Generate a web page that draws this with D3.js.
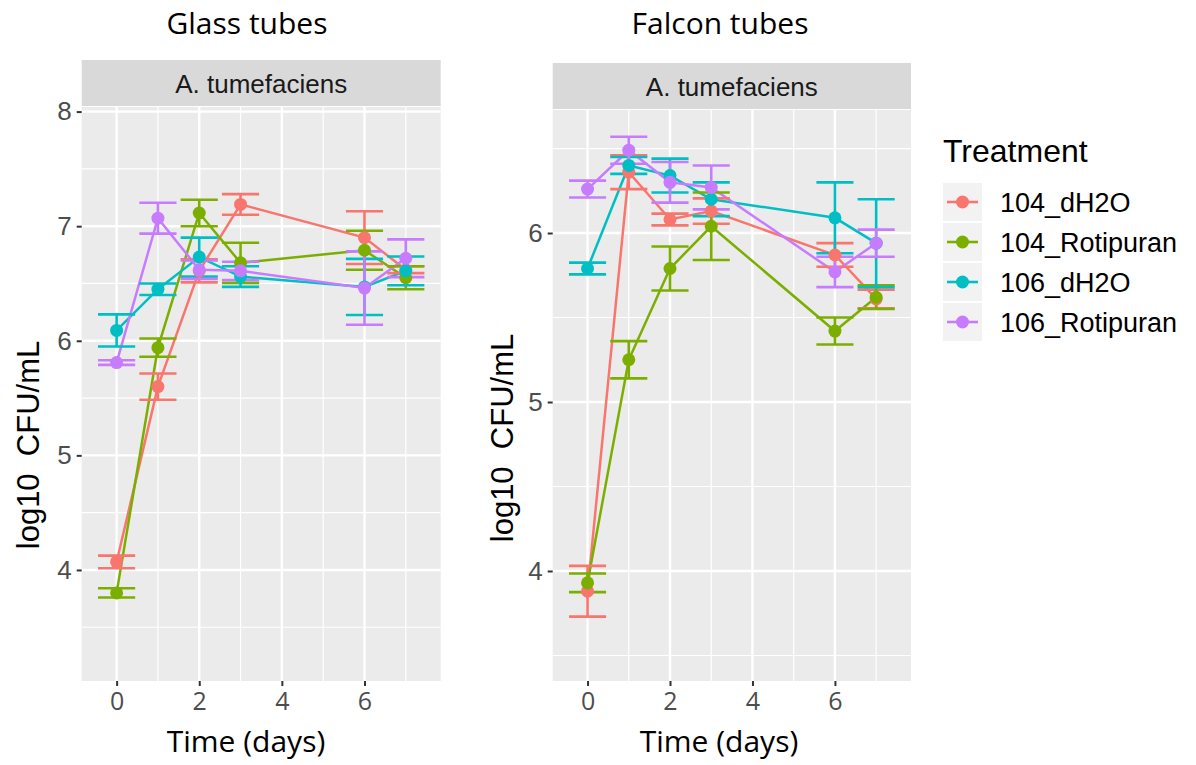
<!DOCTYPE html>
<html>
<head>
<meta charset="utf-8">
<script src="https://cdn.jsdelivr.net/npm/d3@7"></script>
<style>
  body { margin: 0; background: #fff; }
</style>
</head>
<body>
<svg id="chart" width="1196" height="765"></svg>
<script>
// sampling days and treatments
var days = [0, 1, 2, 3, 6, 7];
var treatments = ["104_dH2O", "104_Rotipuran", "106_dH2O", "106_Rotipuran"];
var colors = ["#F8766D", "#7CAE00", "#00BFC4", "#C77CFF"];

// glass tubes: mean log10 CFU/mL and error, one row per treatment
var glassMean = [
    [4.07, 5.60, 6.61, 7.19, 6.90, 6.62],
    [3.80, 5.94, 7.115, 6.68, 6.79, 6.55],
    [6.09, 6.45, 6.73, 6.56, 6.47, 6.61],
    [5.81, 7.07, 6.62, 6.61, 6.46, 6.72]
];
var glassErr = [
    [0.055, 0.115, 0.10, 0.09, 0.23, 0.03],
    [0.04, 0.08, 0.115, 0.175, 0.17, 0.10],
    [0.14, 0.05, 0.17, 0.09, 0.245, 0.125],
    [0.02, 0.135, 0.08, 0.08, 0.32, 0.165]
];

// falcon tubes
var falconMean = [
    [3.88, 6.36, 6.08, 6.13, 5.87, 5.61],
    [3.93, 5.25, 5.79, 6.04, 5.42, 5.62],
    [5.79, 6.40, 6.34, 6.20, 6.09, 5.94],
    [6.26, 6.49, 6.30, 6.27, 5.77, 5.94]
];
var falconErr = [
    [0.15, 0.10, 0.035, 0.075, 0.07, 0.055],
    [0.055, 0.11, 0.13, 0.20, 0.08, 0.07],
    [0.035, 0.05, 0.10, 0.10, 0.21, 0.26],
    [0.05, 0.08, 0.12, 0.13, 0.09, 0.08]
];

var xTicks = [0, 2, 4, 6];
var xMinor = [1, 3, 5, 7];
var glassYTicks = [4, 5, 6, 7, 8];
var glassYMinor = [3.5, 4.5, 5.5, 6.5, 7.5];
var falconYTicks = [4, 5, 6];
var falconYMinor = [3.5, 4.5, 5.5, 6.5];

var svg = d3.select("#chart");
var sansFont = "'Liberation Sans', Arial, sans-serif";
var titleFont = "'Open Sans', sans-serif";

function drawPanel(p) {
    var x = d3.scaleLinear().domain([-0.845, 7.845]).range([p.left, p.right]);
    var y = d3.scaleLinear().domain(p.yDomain).range([p.bottom, p.top]);
    var g = svg.append("g");

    // title
    g.append("text")
        .attr("x", p.titleX).attr("y", 34)
        .attr("text-anchor", "middle")
        .style("font-family", titleFont).style("font-size", "30px")
        .attr("fill", "#000")
        .text(p.title);

    // strip
    g.append("rect")
        .attr("x", p.left).attr("y", p.stripTop)
        .attr("width", p.right - p.left).attr("height", p.top - p.stripTop - 1)
        .attr("fill", "#D9D9D9");
    g.append("text")
        .attr("x", (p.left + p.right) / 2).attr("y", (p.stripTop + p.top) / 2 + 9)
        .attr("text-anchor", "middle")
        .style("font-family", sansFont).style("font-size", "26px")
        .attr("fill", "#1A1A1A")
        .text("A. tumefaciens");

    // panel background + grid
    g.append("rect")
        .attr("x", p.left).attr("y", p.top)
        .attr("width", p.right - p.left).attr("height", p.bottom - p.top)
        .attr("fill", "#EBEBEB");

    g.selectAll(".yminor").data(p.yMinor).join("line")
        .attr("x1", p.left).attr("x2", p.right)
        .attr("y1", function(d) { return y(d); }).attr("y2", function(d) { return y(d); })
        .attr("stroke", "#fff").attr("stroke-width", 1.2);
    g.selectAll(".xminor").data(xMinor).join("line")
        .attr("y1", p.top).attr("y2", p.bottom)
        .attr("x1", function(d) { return x(d); }).attr("x2", function(d) { return x(d); })
        .attr("stroke", "#fff").attr("stroke-width", 1.2);
    g.selectAll(".ymajor").data(p.yTicks).join("line")
        .attr("x1", p.left).attr("x2", p.right)
        .attr("y1", function(d) { return y(d); }).attr("y2", function(d) { return y(d); })
        .attr("stroke", "#fff").attr("stroke-width", 2.4);
    g.selectAll(".xmajor").data(xTicks).join("line")
        .attr("y1", p.top).attr("y2", p.bottom)
        .attr("x1", function(d) { return x(d); }).attr("x2", function(d) { return x(d); })
        .attr("stroke", "#fff").attr("stroke-width", 2.4);

    // axes
    var yAxis = g.append("g")
        .attr("transform", "translate(" + p.left + ",0)")
        .call(d3.axisLeft(y).tickValues(p.yTicks).tickSize(5).tickPadding(5).tickFormat(d3.format("d")));
    yAxis.select(".domain").remove();
    yAxis.selectAll("line").attr("stroke", "#333").attr("stroke-width", 2);
    yAxis.selectAll("text")
        .style("font-family", sansFont).style("font-size", "26px")
        .attr("fill", "#4D4D4D");

    var xAxis = g.append("g")
        .attr("transform", "translate(0," + p.bottom + ")")
        .call(d3.axisBottom(x).tickValues(xTicks).tickSize(5).tickPadding(6));
    xAxis.select(".domain").remove();
    xAxis.selectAll("line").attr("stroke", "#333").attr("stroke-width", 2);
    xAxis.selectAll("text")
        .style("font-family", titleFont).style("font-size", "25px")
        .attr("fill", "#4D4D4D");

    // axis titles
    g.append("text")
        .attr("x", p.xTitleX).attr("y", 752)
        .attr("text-anchor", "middle")
        .style("font-family", titleFont).style("font-size", "30px")
        .text("Time (days)");
    g.append("text")
        .attr("transform", "translate(" + p.yTitleX + "," + p.yTitleY + ") rotate(-90)")
        .attr("text-anchor", "middle")
        .style("font-family", sansFont).style("font-size", "31px")
        .attr("xml:space", "preserve")
        .text("log10  CFU/mL");

    // data marks: lines, then error bars, then points
    var series = treatments.map(function(t, i) {
        return days.map(function(d, j) {
            return { day: d, mean: p.mean[i][j], err: p.err[i][j], color: colors[i] };
        });
    });

    var line = d3.line()
        .x(function(d) { return x(d.day); })
        .y(function(d) { return y(d.mean); });

    series.forEach(function(s, i) {
        g.append("path").datum(s)
            .attr("d", line)
            .attr("fill", "none")
            .attr("stroke", colors[i])
            .attr("stroke-width", 2.5);
    });

    var half = 0.45;
    series.forEach(function(s, i) {
        var eb = g.append("g").attr("stroke", colors[i]).attr("stroke-width", 2.6).attr("fill", "none");
        eb.selectAll("path").data(s).join("path")
            .attr("d", function(d) {
                var x0 = x(d.day - half), x1 = x(d.day + half), xm = x(d.day);
                var yl = y(d.mean - d.err), yh = y(d.mean + d.err);
                return "M" + x0 + "," + yh + "H" + x1 +
                       "M" + xm + "," + yh + "V" + yl +
                       "M" + x0 + "," + yl + "H" + x1;
            });
    });

    series.forEach(function(s, i) {
        g.append("g").selectAll("circle").data(s).join("circle")
            .attr("cx", function(d) { return x(d.day); })
            .attr("cy", function(d) { return y(d.mean); })
            .attr("r", 6.5)
            .attr("fill", colors[i]);
    });
}

drawPanel({
    title: "Glass tubes", titleX: 247,
    left: 81.7, right: 440.7, stripTop: 60, top: 107, bottom: 681,
    yDomain: [3.031, 8.04], yTicks: glassYTicks, yMinor: glassYMinor,
    mean: glassMean, err: glassErr,
    xTitleX: 246, yTitleX: 39, yTitleY: 445
});

drawPanel({
    title: "Falcon tubes", titleX: 720,
    left: 552.7, right: 911, stripTop: 63, top: 110, bottom: 681,
    yDomain: [3.349, 6.728], yTicks: falconYTicks, yMinor: falconYMinor,
    mean: falconMean, err: falconErr,
    xTitleX: 719, yTitleX: 513, yTitleY: 438
});

// legend
var legend = svg.append("g");
legend.append("text")
    .attr("x", 943).attr("y", 162)
    .style("font-family", sansFont).style("font-size", "32px")
    .text("Treatment");

var keys = legend.selectAll(".key").data(treatments).join("g")
    .attr("transform", function(d, i) { return "translate(943," + (183 + i * 40) + ")"; });
keys.append("rect")
    .attr("width", 39).attr("height", 38)
    .attr("fill", "#F2F2F2");
keys.append("line")
    .attr("x1", 4).attr("x2", 35).attr("y1", 19).attr("y2", 19)
    .attr("stroke", function(d, i) { return colors[i]; })
    .attr("stroke-width", 2.6);
keys.append("circle")
    .attr("cx", 19.5).attr("cy", 19).attr("r", 6.5)
    .attr("fill", function(d, i) { return colors[i]; });
keys.append("text")
    .attr("x", 57).attr("y", 29)
    .style("font-family", sansFont).style("font-size", "27px")
    .attr("fill", "#000")
    .text(function(d) { return d; });
</script>
</body>
</html>
